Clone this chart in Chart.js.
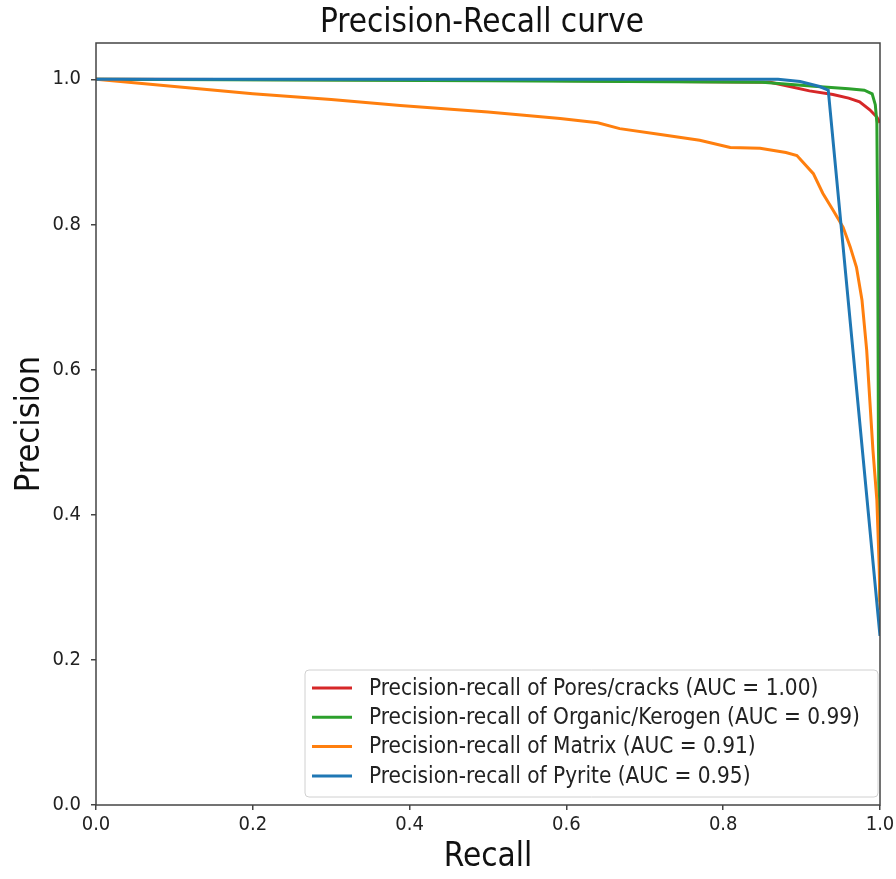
<!DOCTYPE html>
<html>
<head>
<meta charset="utf-8">
<script src="https://cdn.jsdelivr.net/npm/chart.js@4"></script>
<style>
  html, body { margin: 0; padding: 0; background: #fff; }
  #wrap { width: 896px; height: 879px; }
</style>
</head>
<body>
<div id="wrap"><canvas id="c" width="896" height="879"></canvas></div>
<script>
const seriesLabels = [
  'Precision-recall of Pores/cracks (AUC = 1.00)',
  'Precision-recall of Organic/Kerogen (AUC = 0.99)',
  'Precision-recall of Matrix (AUC = 0.91)',
  'Precision-recall of Pyrite (AUC = 0.95)'
];
const seriesColors = ['#d62728', '#2ca02c', '#ff7f0e', '#1f77b4'];

const poresRecall    = [0, 0.5, 0.86, 0.885, 0.91, 0.94, 0.96, 0.974, 0.987, 0.996, 1.0];
const poresPrecision = [1.0, 0.999, 0.996, 0.990, 0.984, 0.979, 0.974, 0.969, 0.958, 0.948, 0.940];

const organicRecall    = [0, 0.5, 0.85, 0.92, 0.96, 0.98, 0.99, 0.994, 0.996, 0.997, 0.998, 1.0];
const organicPrecision = [1.0, 0.998, 0.996, 0.990, 0.987, 0.985, 0.980, 0.965, 0.940, 0.800, 0.500, 0.280];

const matrixRecall    = [0, 0.1, 0.2, 0.3, 0.388, 0.5, 0.592, 0.64, 0.668, 0.72, 0.77, 0.809, 0.847, 0.88, 0.894,
                         0.915, 0.927, 0.94, 0.953, 0.962, 0.970, 0.977, 0.983, 0.987, 0.991, 0.996, 0.999, 1.0];
const matrixPrecision = [1.0, 0.99, 0.98, 0.972, 0.964, 0.955, 0.946, 0.940, 0.932, 0.924, 0.916, 0.906, 0.905, 0.899, 0.895,
                         0.870, 0.843, 0.820, 0.796, 0.769, 0.741, 0.696, 0.627, 0.558, 0.489, 0.420, 0.328, 0.269];

const pyriteRecall    = [0, 0.5, 0.87, 0.898, 0.923, 0.934, 1.0];
const pyritePrecision = [1.0, 1.0, 1.0, 0.997, 0.990, 0.985, 0.233];

const tickValues = [0, 0.2, 0.4, 0.6, 0.8, 1.0];

const recallSets = [poresRecall, organicRecall, matrixRecall, pyriteRecall];
const precisionSets = [poresPrecision, organicPrecision, matrixPrecision, pyritePrecision];

const FONT = "'DejaVu Sans Condensed', 'DejaVu Sans', sans-serif";

const framePlugin = {
  id: 'frame',
  afterDraw(chart) {
    const {ctx, chartArea: a} = chart;
    ctx.save();
    ctx.strokeStyle = '#444';
    ctx.lineWidth = 1.5;
    ctx.strokeRect(a.left, a.top, a.right - a.left, a.bottom - a.top);

    // title
    ctx.fillStyle = '#111';
    ctx.font = '33px ' + FONT;
    ctx.textAlign = 'center';
    ctx.textBaseline = 'alphabetic';
    ctx.fillText('Precision-Recall curve', (a.left + a.right) / 2 - 6, a.top - 11);

    // legend box in lower right
    const bx = 305, by = 670, bw = 573, bh = 127;
    ctx.fillStyle = 'rgba(255,255,255,0.85)';
    ctx.strokeStyle = '#d0d0d0';
    ctx.lineWidth = 1;
    ctx.beginPath();
    ctx.roundRect(bx, by, bw, bh, 4);
    ctx.fill();
    ctx.stroke();
    ctx.font = '22.4px ' + FONT;
    ctx.textAlign = 'left';
    ctx.textBaseline = 'middle';
    chart.data.datasets.forEach((ds, i) => {
      const y = by + 18 + i * 29.3;
      ctx.strokeStyle = ds.borderColor;
      ctx.lineWidth = 3;
      ctx.beginPath();
      ctx.moveTo(bx + 7, y);
      ctx.lineTo(bx + 47, y);
      ctx.stroke();
      ctx.fillStyle = '#222';
      ctx.fillText(ds.label, bx + 64, y + 1);
    });
    ctx.restore();
  }
};

new Chart(document.getElementById('c'), {
  type: 'line',
  data: {
    datasets: seriesLabels.map((label, i) => ({
      label,
      data: recallSets[i].map((r, j) => ({x: r, y: precisionSets[i][j]})),
      borderColor: seriesColors[i],
      backgroundColor: seriesColors[i],
      borderWidth: 3,
      pointRadius: 0,
      tension: 0,
      fill: false,
      order: 4 - i
    }))
  },
  options: {
    responsive: false,
    animation: false,
    layout: {padding: {top: 43, left: 0, right: 16, bottom: 0}},
    plugins: {
      legend: {display: false},
      tooltip: {enabled: false}
    },
    scales: {
      x: {
        type: 'linear',
        min: 0, max: 1,
        afterFit(s) { s.height = 74; s.paddingRight = 0; s.paddingLeft = 0; },
        afterBuildTicks(s) { s.ticks = tickValues.map(v => ({value: v})); },
        ticks: {
          callback: v => v.toFixed(1),
          color: '#222',
          font: {family: FONT, size: 20},
          padding: 3,
          maxRotation: 0
        },
        grid: {display: true, drawOnChartArea: false, drawTicks: true, tickLength: 5, color: '#444', lineWidth: 1.5},
        border: {display: false},
        title: {display: true, text: 'Recall', color: '#111', font: {family: FONT, size: 33}, padding: {top: 0, bottom: 2}}
      },
      y: {
        min: 0, max: 1.05,
        afterFit(s) { s.width = 96; },
        afterBuildTicks(s) { s.ticks = tickValues.map(v => ({value: v})); },
        ticks: {
          callback: v => v.toFixed(1),
          color: '#222',
          font: {family: FONT, size: 20},
          padding: 10
        },
        grid: {display: true, drawOnChartArea: false, drawTicks: true, tickLength: 5, color: '#444', lineWidth: 1.5},
        border: {display: false},
        title: {display: true, text: 'Precision', color: '#111', font: {family: FONT, size: 34}, padding: {top: 10, bottom: 0}}
      }
    }
  },
  plugins: [framePlugin]
});
</script>
</body>
</html>
